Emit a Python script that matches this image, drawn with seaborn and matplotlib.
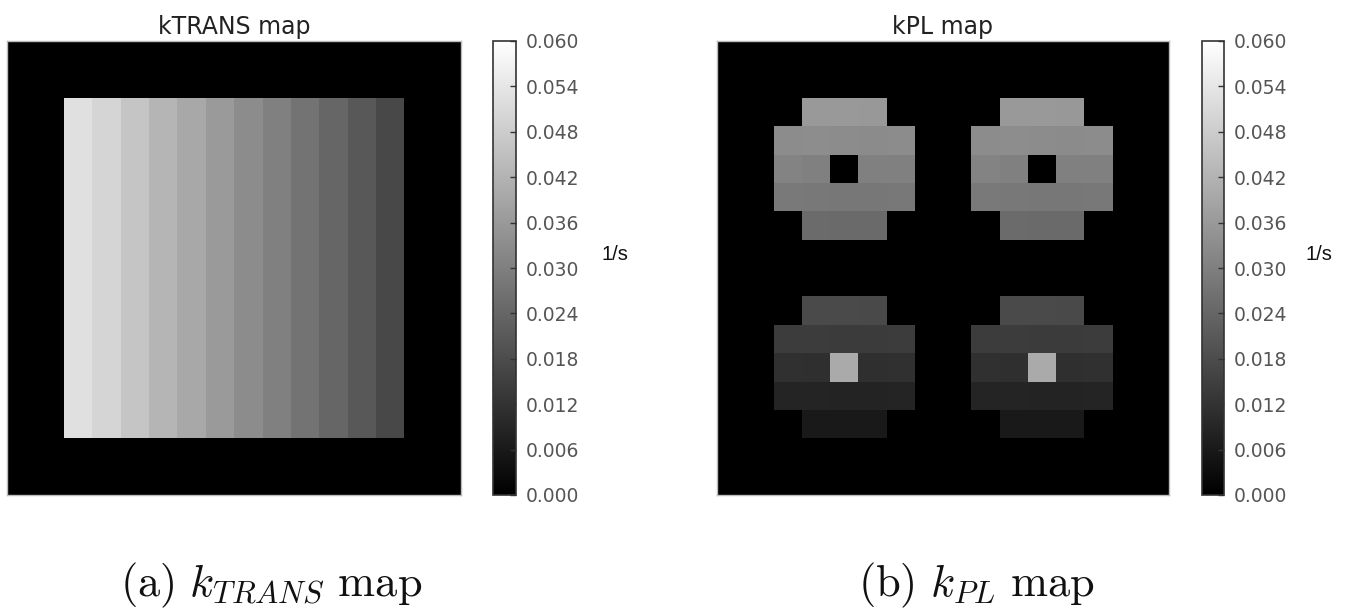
import numpy as np
import pandas as pd
import matplotlib
matplotlib.use("Agg")
import matplotlib.pyplot as plt
import seaborn as sns

sns.set_style("white")
plt.rcParams["font.family"] = ["DejaVu Sans"]
plt.rcParams["mathtext.fontset"] = "cm"

# ---------------- data ----------------
grid_size = 16
# kTRANS phantom: 12 vertical stripes (left -> right), inner square rows/cols 2..13
ktrans_stripes = [0.0527, 0.0500, 0.0464, 0.0426, 0.0395, 0.0362,
                  0.0330, 0.0300, 0.0271, 0.0240, 0.0207, 0.0170]
ktrans_inner_start = 2

# kPL phantom: four 5x5 discs (zeros = outside / hole)
kpl_disc_upper = [
    [0.0,    0.0360, 0.0360, 0.0358, 0.0],
    [0.0330, 0.0332, 0.0330, 0.0328, 0.0330],
    [0.0308, 0.0302, 0.0,    0.0300, 0.0302],
    [0.0285, 0.0282, 0.0280, 0.0280, 0.0282],
    [0.0,    0.0252, 0.0250, 0.0250, 0.0],
]
kpl_disc_lower = [
    [0.0,    0.0174, 0.0174, 0.0172, 0.0],
    [0.0142, 0.0142, 0.0140, 0.0140, 0.0142],
    [0.0113, 0.0112, 0.0400, 0.0112, 0.0113],
    [0.0085, 0.0085, 0.0084, 0.0084, 0.0085],
    [0.0,    0.0060, 0.0060, 0.0060, 0.0],
]
kpl_disc_origins = [(2, 2), (2, 9), (9, 2), (9, 9)]   # (row, col) of disc top-left
kpl_disc_kind = ["upper", "upper", "lower", "lower"]

cbar_ticks = [0.000, 0.006, 0.012, 0.018, 0.024, 0.030,
              0.036, 0.042, 0.048, 0.054, 0.060]
vmin, vmax = 0.0, 0.06

titles = ["kTRANS map", "kPL map"]
captions = [r"$\mathrm{(a)}\ k_{TRANS}\ \mathrm{map}$",
            r"$\mathrm{(b)}\ k_{PL}\ \mathrm{map}$"]
unit_label = "1/s"

# ---------------- build maps ----------------
ktrans = np.zeros((grid_size, grid_size))
n = len(ktrans_stripes)
s = ktrans_inner_start
ktrans[s:s + n, s:s + n] = np.array(ktrans_stripes)[None, :]

kpl = np.zeros((grid_size, grid_size))
discs = {"upper": np.array(kpl_disc_upper), "lower": np.array(kpl_disc_lower)}
for (r0, c0), kind in zip(kpl_disc_origins, kpl_disc_kind):
    d = discs[kind]
    kpl[r0:r0 + d.shape[0], c0:c0 + d.shape[1]] = d

maps = [pd.DataFrame(ktrans), pd.DataFrame(kpl)]

# ---------------- figure ----------------
W, H = 1361, 614
fig = plt.figure(figsize=(W / 100, H / 100), dpi=100)

def fx(px):
    return px / W

def fy(py):
    return 1 - py / H

ax_boxes = [(7.3, 461.0), (717.0, 1169.0)]
cb_boxes = [(493.0, 516.0), (1202.0, 1224.0)]
top_px, bot_px = 41.0, 495.0
caption_left = [120, 858]

for i in range(2):
    x0, x1 = ax_boxes[i]
    ax = fig.add_axes([fx(x0), fy(bot_px), fx(x1 - x0), (bot_px - top_px) / H])
    c0, c1 = cb_boxes[i]
    cax = fig.add_axes([fx(c0), fy(bot_px), fx(c1 - c0), (bot_px - top_px) / H])

    sns.heatmap(maps[i], ax=ax, cbar_ax=cax, cmap="gray", vmin=vmin, vmax=vmax,
                xticklabels=False, yticklabels=False, square=False,
                cbar_kws={"ticks": cbar_ticks})
    ax.set_aspect("auto")
    for sp in ax.spines.values():
        sp.set_visible(True)
        sp.set_color("#bbbbbb")
        sp.set_linewidth(1.0)
    ax.set_title(titles[i], fontsize=17, pad=5, color="#222222")

    cbar = ax.collections[0].colorbar
    cbar.outline.set_visible(True)
    cbar.outline.set_edgecolor("#333333")
    cbar.outline.set_linewidth(1.2)
    cax.set_axisbelow(False)
    cax.tick_params(axis="y", which="major", right=True, direction="in", length=4,
                    width=1, color="#333333", pad=7, labelsize=13.5,
                    labelcolor="#555555")
    cax.set_yticklabels([f"{t:.3f}" for t in cbar_ticks])
    cax.set_ylabel(unit_label, rotation=0, fontsize=14.5, family="Liberation Sans",
                   color="#111111", ha="center", va="center")
    cax.yaxis.set_label_coords(5.3, 0.53)

    fig.text(fx(caption_left[i]), fy(585), captions[i], fontsize=32,
             ha="left", va="center", color="#111111")

fig.savefig("out.png", dpi=100)
